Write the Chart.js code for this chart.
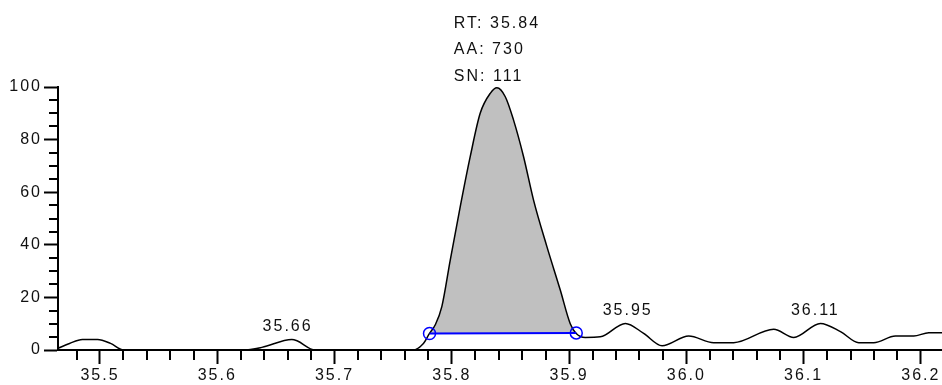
<!DOCTYPE html>
<html>
<head>
<meta charset="utf-8">
<script src="https://cdn.jsdelivr.net/npm/chart.js@4"></script>
<style>
  html, body { margin: 0; padding: 0; background: #fff; }
  canvas { display: block; }
</style>
</head>
<body>
<canvas id="chart" width="942" height="385"></canvas>
<script>
// Data (retention time in min, relative abundance)
const times = [35.464, 35.474, 35.485, 35.498, 35.509, 35.520, 35.622, 35.638, 35.6636, 35.668,
    35.6834, 35.7668, 35.7758, 35.7810, 35.7858, 35.7915, 35.7986, 35.8072, 35.8157, 35.8242,
    35.8328, 35.8385, 35.8456, 35.8526, 35.8612, 35.8697, 35.8811, 35.8925, 35.9010, 35.9061,
    35.9138, 35.9266, 35.9480, 35.9636, 35.9793, 36.0020, 36.0233, 36.0404, 36.0745, 36.0916,
    36.1143, 36.1314, 36.1470, 36.1598, 36.1783, 36.1939, 36.2067, 36.218];
const abundance = [0.6, 2.5, 4, 4, 2.5, 0, 0, 1, 4, 3.5,
    0, 0, 2.5, 6.3, 9.5, 16.5, 34, 54.5, 73.5, 90,
    97.6, 99.7, 96.3, 87.5, 73.5, 57, 39.3, 22.8, 10, 6.3,
    4.8, 5, 10.1, 6.3, 1.6, 5.3, 2.8, 2.8, 7.9, 4.8,
    10.1, 7, 2.8, 2.8, 5.3, 5.3, 6.6, 6.6];

// Integrated peak: start/end times and baseline levels
const peakStart = 35.7810;
const peakEnd = 35.9061;
const baselineLevels = [6.3, 6.5];

// Peak info
const peakInfo = ['RT: 35.84', 'AA: 730', 'SN: 111'];
const peakApex = 35.8385;
const peakApexValue = 99.7;

// Labelled minor peaks (label text, apex value)
const minorLabels = ['35.66', '35.95', '36.11'];
const minorApexValues = [4, 10.1, 10.1];

// Axes
const xMin = 35.4642;
const xMax = 36.218;
const xTicks = [35.5, 35.6, 35.7, 35.8, 35.9, 36.0, 36.1, 36.2];
const yTicks = [0, 20, 40, 60, 80, 100];
const xMinorStep = 0.02;
const yMinorStep = 5;

const FONT = { family: "'Liberation Sans', Arial, sans-serif", size: 16 };
const SPACING = '2px';

const tracePoints = times.map((t, i) => ({ x: t, y: abundance[i] }));
const peakPoints = tracePoints.filter(p => p.x >= peakStart - 1e-9 && p.x <= peakEnd + 1e-9);
const baselinePoints = [
    { x: peakStart, y: baselineLevels[0] },
    { x: peakEnd, y: baselineLevels[1] }
];

// Letter spacing for all canvas text (reset whenever the canvas resizes)
const spacingPlugin = {
    id: 'spacing',
    beforeLayout(chart) { chart.ctx.letterSpacing = SPACING; },
    beforeDraw(chart) { chart.ctx.letterSpacing = SPACING; }
};

// Minor tick marks on both axes
const minorTicksPlugin = {
    id: 'minorTicks',
    afterDraw(chart) {
        const ctx = chart.ctx;
        const xs = chart.scales.x;
        const ys = chart.scales.y;
        const area = chart.chartArea;
        ctx.save();
        ctx.strokeStyle = '#000';
        ctx.lineWidth = 2;
        ctx.beginPath();
        let n0 = Math.ceil(xs.min / xMinorStep - 1e-6);
        for (let n = n0; n * xMinorStep <= xs.max + 1e-9; n++) {
            const v = n * xMinorStep;
            if (Math.abs(v * 10 - Math.round(v * 10)) < 1e-6) continue;
            const px = Math.round(xs.getPixelForValue(v));
            ctx.moveTo(px, area.bottom);
            ctx.lineTo(px, area.bottom + 10);
        }
        for (let v = 0; v <= ys.max; v += yMinorStep) {
            if (v % 20 === 0) continue;
            const py = Math.round(ys.getPixelForValue(v));
            ctx.moveTo(area.left - 9, py);
            ctx.lineTo(area.left, py);
        }
        ctx.stroke();
        ctx.restore();
    }
};

// Peak annotations
const labelsPlugin = {
    id: 'peakLabels',
    afterDatasetsDraw(chart) {
        const ctx = chart.ctx;
        const xs = chart.scales.x;
        const ys = chart.scales.y;
        ctx.save();
        ctx.font = `${FONT.size}px ${FONT.family}`;
        ctx.fillStyle = '#111';
        ctx.textBaseline = 'alphabetic';

        ctx.textAlign = 'center';
        minorLabels.forEach((txt, i) => {
            const px = xs.getPixelForValue(parseFloat(txt));
            const py = ys.getPixelForValue(minorApexValues[i]);
            ctx.fillText(txt, px, py - 8);
        });

        ctx.textAlign = 'left';
        const widths = peakInfo.map(s => ctx.measureText(s).width);
        const maxW = Math.max(...widths);
        const left = xs.getPixelForValue(peakApex) - maxW / 2;
        const top = ys.getPixelForValue(peakApexValue);
        for (let k = 0; k < peakInfo.length; k++) {
            const line = peakInfo[peakInfo.length - 1 - k];
            ctx.fillText(line, left, top - 7 - 26.5 * k);
        }
        ctx.restore();
    }
};

const chart = new Chart(document.getElementById('chart'), {
    type: 'line',
    data: {
        datasets: [
            {
                label: 'trace',
                data: tracePoints,
                borderColor: '#000',
                borderWidth: 1.5,
                pointRadius: 0,
                cubicInterpolationMode: 'monotone',
                fill: false,
                order: 1
            },
            {
                label: 'peak area',
                data: peakPoints,
                borderWidth: 0,
                borderColor: 'rgba(0,0,0,0)',
                backgroundColor: '#c0c0c0',
                pointRadius: 0,
                cubicInterpolationMode: 'monotone',
                fill: { target: 2 },
                order: 3
            },
            {
                label: 'baseline',
                data: baselinePoints,
                borderColor: '#0000ff',
                borderWidth: 2,
                pointRadius: 6,
                pointStyle: 'circle',
                pointBorderColor: '#0000ff',
                pointBackgroundColor: 'rgba(0,0,0,0)',
                pointBorderWidth: 1.5,
                tension: 0,
                fill: false,
                order: 0
            }
        ]
    },
    options: {
        responsive: false,
        animation: false,
        devicePixelRatio: 1,
        layout: { autoPadding: false, padding: { top: 87, right: 0, left: 0, bottom: 0 } },
        plugins: {
            legend: { display: false },
            tooltip: { enabled: false },
            filler: { propagate: false }
        },
        scales: {
            x: {
                type: 'linear',
                min: xMin,
                max: xMax,
                afterBuildTicks: (scale) => { scale.ticks = xTicks.map(v => ({ value: v })); },
                afterFit: (scale) => {
                    scale.height = 35;
                    scale.paddingLeft = 0;
                    scale.paddingRight = 0;
                },
                grid: { drawOnChartArea: false, drawTicks: true, tickLength: 14, tickWidth: 2, tickColor: '#000' },
                border: { display: true, color: '#000', width: 2 },
                ticks: {
                    font: FONT,
                    color: '#111',
                    padding: 2,
                    maxRotation: 0,
                    autoSkip: false,
                    callback: (v) => v.toFixed(1)
                }
            },
            y: {
                type: 'linear',
                min: 0,
                max: 100,
                afterBuildTicks: (scale) => { scale.ticks = yTicks.map(v => ({ value: v })); },
                afterFit: (scale) => { scale.width = 58; },
                grid: { drawOnChartArea: false, drawTicks: true, tickLength: 14, tickWidth: 2, tickColor: '#000' },
                border: { display: true, color: '#000', width: 2 },
                ticks: {
                    font: FONT,
                    color: '#111',
                    padding: 2,
                    autoSkip: false,
                    callback: (v) => String(v)
                }
            }
        }
    },
    plugins: [spacingPlugin, minorTicksPlugin, labelsPlugin]
});
</script>
</body>
</html>
